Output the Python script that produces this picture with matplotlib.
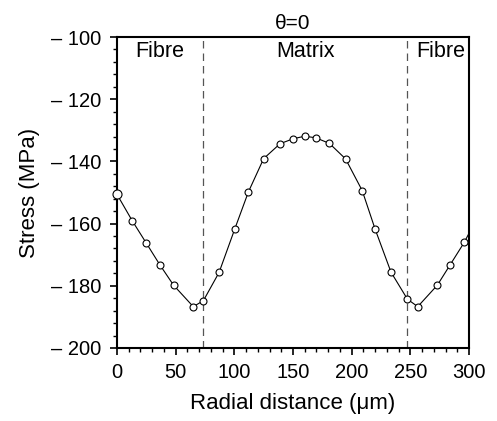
import numpy as np
import matplotlib
matplotlib.use("Agg")
import matplotlib.pyplot as plt
from matplotlib.ticker import MultipleLocator, FuncFormatter

plt.rcParams['font.family'] = ['Liberation Sans', 'DejaVu Sans']

# data
radial = [0, 13, 25, 36.6, 48.2, 65, 73.6, 87, 100.4, 112, 125, 139, 150.3, 160,
          169.3, 181, 194.8, 209, 219.9, 233.5, 247.5, 256.3, 273, 284, 296]
stress = [-150.6, -159.1, -166.3, -173.3, -179.8, -186.7, -184.8, -175.7, -161.7,
          -149.8, -139.1, -134.3, -132.7, -131.9, -132.4, -134.2, -139.2, -149.4,
          -161.7, -175.6, -184.3, -186.7, -179.8, -173.2, -166.0]
curve_end_x = 300
curve_end_y = -163.1
interfaces = [73.6, 247.5]
regions = ["Fibre", "Matrix", "Fibre"]
region_x = [36.6, 160.7, 275.5]

fig = plt.figure(figsize=(4.97, 4.21), dpi=100)
ax = fig.add_axes([0.2354, 0.1734, 0.7083, 0.7387])

ax.plot(radial + [curve_end_x], stress + [curve_end_y], color="black", lw=0.8, zorder=2)
ax.plot(radial[1:], stress[1:], ls="none", marker="o", ms=5, mfc="white",
        mec="black", mew=0.8, zorder=3)
ax.plot(radial[:1], stress[:1], ls="none", marker="o", ms=6.5, mfc="white",
        mec="black", mew=0.8, zorder=3, clip_on=False)

for xi in interfaces:
    ax.axvline(xi, color="#555555", lw=0.9, ls=(0, (6, 4)), zorder=1)

for name, xi in zip(regions, region_x):
    ax.text(xi, -104.6, name, ha="center", va="center", fontsize=15.5)

ax.set_xlim(0, 300)
ax.set_ylim(-200, -100)
ax.xaxis.set_major_locator(MultipleLocator(50))
ax.xaxis.set_minor_locator(MultipleLocator(10))
ax.yaxis.set_major_locator(MultipleLocator(20))
ax.yaxis.set_minor_locator(MultipleLocator(4))
ax.yaxis.set_major_formatter(FuncFormatter(lambda v, p: "\u2013 %d" % abs(v) if v < 0 else "%d" % v))

ax.tick_params(which="major", direction="out", length=5, width=1.2, labelsize=14.5, pad=6)
ax.tick_params(which="minor", direction="out", length=3, width=1.0)
for s in ax.spines.values():
    s.set_linewidth(1.5)

ax.set_xlabel("Radial distance (\u03bcm)", fontsize=16, labelpad=8)
ax.set_ylabel("Stress (MPa)", fontsize=16, labelpad=8)
ax.set_title("\u03b8=0", fontsize=15, pad=6)

fig.savefig("out.png", dpi=100)
